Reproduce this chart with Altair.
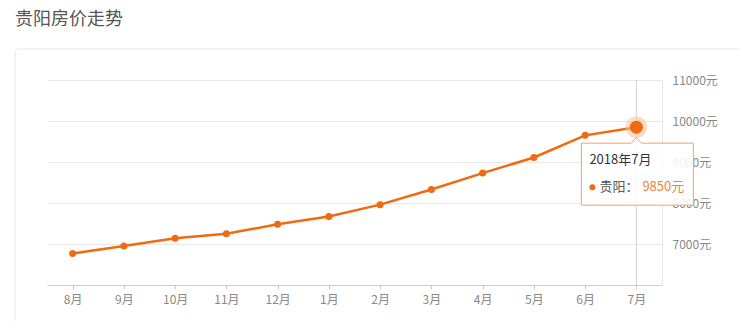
import altair as alt
import pandas as pd

# ---- data ----
months = ["8月", "9月", "10月", "11月", "12月", "1月", "2月", "3月", "4月", "5月", "6月", "7月"]
prices = [6770, 6950, 7140, 7250, 7480, 7670, 7960, 8330, 8730, 9110, 9650, 9850]
y_ticks = [7000, 8000, 9000, 10000, 11000]
y_domain = [6000, 11000]
title_text = "贵阳房价走势"
tip_month = "7月"
tip_title = "2018年7月"
series_name = "贵阳"
unit = "元"

FONT = "Noto Sans CJK SC"
ORANGE = "#ef6a10"

df = pd.DataFrame({"month": months, "price": prices})
tip_price = prices[months.index(tip_month)]
tip = pd.DataFrame({
    "month": [tip_month],
    "price": [tip_price],
    "top": [y_domain[1]],
    "bottom": [y_domain[0]],
    "title": [tip_title],
    "name": [series_name + "："],
    "val": [f"{tip_price}{unit}"],
})

x_enc = alt.X(
    "month:N", sort=months,
    scale=alt.Scale(type="point", padding=0.5),
    axis=alt.Axis(title=None, labelAngle=0, domainColor="#cccccc", tickColor="#cccccc",
                  tickSize=4, labelColor="#888888", labelFontSize=12, labelPadding=5,
                  labelFont=FONT, grid=False),
)
y_axis = alt.Axis(orient="right", values=y_ticks, labelExpr="datum.value + '元'", title=None,
                  ticks=False, domainColor="#e6e6e6", gridColor="#e8e8e8", labelColor="#888888",
                  labelPadding=10, labelFontSize=12, labelFont=FONT)
y_scale = alt.Scale(domain=y_domain, nice=False, zero=False)
y_enc = alt.Y("price:Q", scale=y_scale, axis=y_axis)

base = alt.Chart(df)
tipc = alt.Chart(tip)

card = alt.Chart(pd.DataFrame({"a": [0]})).mark_rect(
    fillOpacity=0, stroke="#e6e6e6", strokeWidth=1, cornerRadius=3
).encode(x=alt.value(-32), x2=alt.value(720), y=alt.value(-31), y2=alt.value(270))

cross = tipc.mark_rule(color="#d0d0d0", strokeWidth=1, y2Offset=3).encode(
    x=x_enc, y=alt.Y("top:Q", scale=y_scale, axis=y_axis), y2="bottom:Q"
)

line = base.mark_line(color=ORANGE, strokeWidth=2.5).encode(x=x_enc, y=y_enc)
pts = base.mark_circle(color=ORANGE, size=49, opacity=1).encode(x=x_enc, y=y_enc)

halo = tipc.mark_circle(color="#f5c39b", size=484, opacity=0.55).encode(x=x_enc, y=y_enc)
hi = tipc.mark_circle(color=ORANGE, size=169, opacity=1).encode(x=x_enc, y=y_enc)

box_path = ("M-0.982,0.286 L-0.09,0.286 L0,0.18 L0.09,0.286 L1.018,0.286 "
            "L1.018,1.393 L-0.982,1.393 Z")
box = tipc.mark_point(
    shape=box_path, size=112 * 112, filled=True, fill="white", fillOpacity=0.88,
    stroke="#f0a468", strokeWidth=1, opacity=1
).encode(x=x_enc, y=y_enc)

t_title = tipc.mark_text(align="left", baseline="middle", dx=-47, dy=33, fontSize=13,
                         color="#333333", font=FONT).encode(x=x_enc, y=y_enc, text="title:N")
t_dot = tipc.mark_circle(color=ORANGE, size=36, opacity=1, xOffset=-44, yOffset=60).encode(
    x=x_enc, y=y_enc)
t_name = tipc.mark_text(align="left", baseline="middle", dx=-37, dy=60, fontSize=13,
                        color="#555555", font=FONT).encode(x=x_enc, y=y_enc, text="name:N")
t_val = tipc.mark_text(align="left", baseline="middle", dx=6, dy=60, fontSize=13,
                       color="#e9853a", font=FONT).encode(x=x_enc, y=y_enc, text="val:N")

chart = alt.layer(card, cross, line, pts, halo, hi, box, t_title, t_dot, t_name, t_val).properties(
    width=615, height=205,
    view=alt.ViewBackground(stroke="transparent", strokeWidth=0),
    title=alt.TitleParams(title_text, anchor="start", frame="group", dx=-32, offset=20,
                          fontSize=18, font=FONT, fontWeight="normal", color="#555555"),
    autosize=alt.AutoSizeParams(type="none"),
    padding={"left": 47, "top": 80, "right": 78, "bottom": 36},
).configure_view(strokeWidth=0, stroke="transparent").configure(background="white")

chart.save("out.html", embed_options={"renderer": "svg", "actions": False})
